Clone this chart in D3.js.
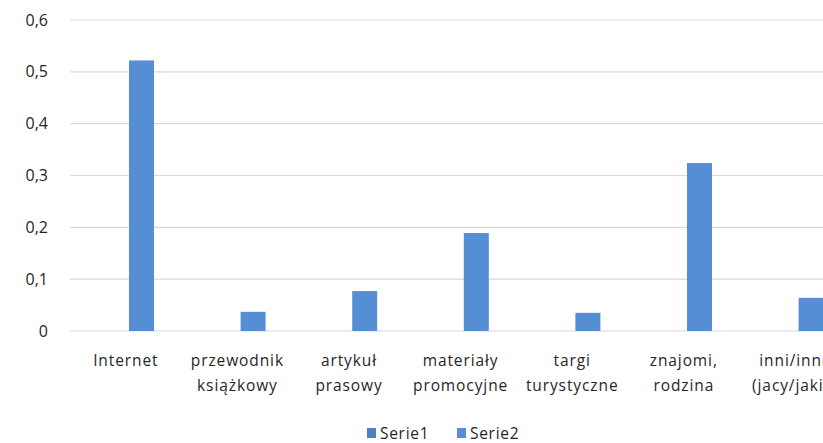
<!DOCTYPE html>
<html lang="pl">
<head>
  <meta charset="UTF-8">
  <title>Źródła informacji</title>
  <script src="https://d3js.org/d3.v7.min.js"></script>
  <style>
    body {
      margin: 0;
      background: #fff;
      overflow: hidden;
    }

    svg {
      display: block;
      font-family: 'Open Sans', 'Noto Sans', sans-serif;
    }

    .tick-label {
      font-size: 16px;
      fill: #262626;
    }

    .cat-label {
      font-size: 15.5px;
      fill: #262626;
      letter-spacing: 0.9px;
      text-anchor: middle;
    }

    .grid line {
      stroke: #d9d9d9;
      stroke-width: 1.2px;
    }

    .legend text {
      font-size: 15.5px;
      fill: #262626;
      letter-spacing: 0.7px;
    }
  </style>
</head>
<body>

<svg></svg>

<script>
// categories (two-line labels)
const categories = [
  ["Internet"],
  ["przewodnik", "książkowy"],
  ["artykuł", "prasowy"],
  ["materiały", "promocyjne"],
  ["targi", "turystyczne"],
  ["znajomi,", "rodzina"],
  ["inni/inne", "(jacy/jakie)"]
];

const seriesNames = ["Serie1", "Serie2"];
const serie1 = [0, 0, 0, 0, 0, 0, 0];
const serie2 = [0.522, 0.037, 0.077, 0.189, 0.035, 0.324, 0.064];

const yTicks = [0, 0.1, 0.2, 0.3, 0.4, 0.5, 0.6];
const colors = ["#4f81bd", "#558ed5"];

const width = 823, height = 443;

const svg = d3.select("svg")
  .attr("width", width)
  .attr("height", height);

// the original plot is wider than the picture, last category is cut off
const x0 = d3.scaleBand()
  .domain(d3.range(categories.length))
  .range([70, 70 + 111.6 * categories.length]);

const x1 = d3.scaleBand()
  .domain(seriesNames)
  .range([34, 84]);

const y = d3.scaleLinear()
  .domain([0, 0.6])
  .range([331, 20]);

const fmt = v => d3.format(".1f")(v).replace(".", ",");

// gridlines
svg.append("g")
  .attr("class", "grid")
  .selectAll("line")
  .data(yTicks)
  .join("line")
  .attr("x1", 70)
  .attr("x2", width)
  .attr("y1", d => y(d))
  .attr("y2", d => y(d));

// y labels
svg.append("g")
  .selectAll("text")
  .data(yTicks)
  .join("text")
  .attr("class", "tick-label")
  .attr("x", 48)
  .attr("y", d => y(d))
  .attr("dy", "0.35em")
  .attr("text-anchor", "end")
  .text(d => d === 0 ? "0" : fmt(d));

// bars
const rows = categories.map((c, i) => ({ i, values: [serie1[i], serie2[i]] }));

const group = svg.append("g")
  .selectAll("g")
  .data(rows)
  .join("g")
  .attr("transform", d => `translate(${x0(d.i)},0)`);

group.selectAll("rect")
  .data(d => d.values.map((v, k) => ({ key: seriesNames[k], v, k })))
  .join("rect")
  .attr("x", d => x1(d.key))
  .attr("width", x1.bandwidth())
  .attr("y", d => y(d.v))
  .attr("height", d => y(0) - y(d.v))
  .attr("fill", d => colors[d.k]);

// category labels
const labels = svg.append("g")
  .selectAll("text")
  .data(categories)
  .join("text")
  .attr("class", "cat-label")
  .attr("x", (d, i) => x0(i) + x0.bandwidth() / 2)
  .attr("y", 366);

labels.selectAll("tspan")
  .data(d => d)
  .join("tspan")
  .attr("x", function () { return d3.select(this.parentNode).attr("x"); })
  .attr("dy", (d, i) => i === 0 ? 0 : 25)
  .text(d => d);

// legend
const legend = svg.append("g")
  .attr("class", "legend")
  .selectAll("g")
  .data(seriesNames)
  .join("g")
  .attr("transform", (d, i) => `translate(${367 + i * 90},428)`);

legend.append("rect")
  .attr("width", 9)
  .attr("height", 10)
  .attr("fill", (d, i) => colors[i]);

legend.append("text")
  .attr("x", 13)
  .attr("y", 10.5)
  .text(d => d);
</script>

</body>
</html>
